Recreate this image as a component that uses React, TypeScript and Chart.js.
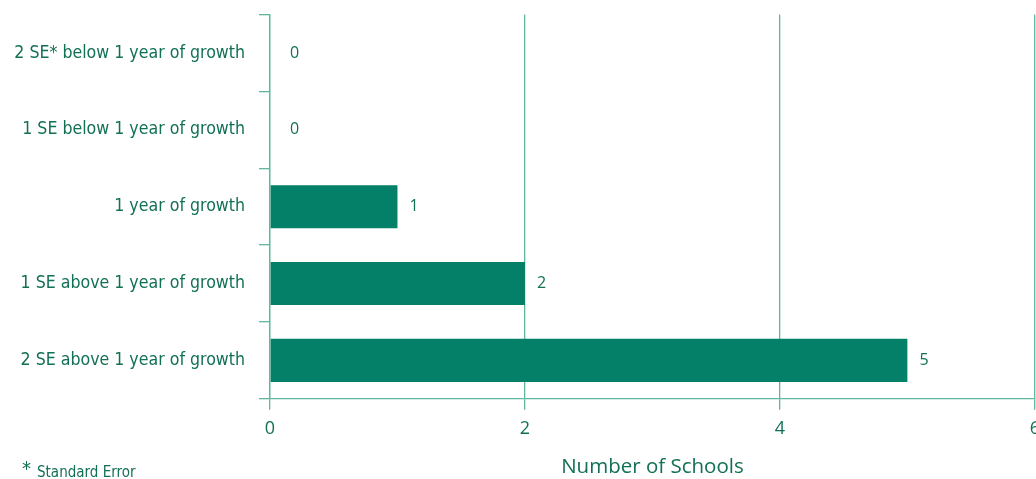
import React, { useEffect, useRef } from "react";
import { Chart, registerables } from "chart.js";

Chart.register(...registerables);

const categories = [
  "2 SE* below 1 year of growth",
  "1 SE below 1 year of growth",
  "1 year of growth",
  "1 SE above 1 year of growth",
  "2 SE above 1 year of growth",
];
const schoolCounts = [0, 0, 1, 2, 5];
const axisTitle = "Number of Schools";
const footnote = "* Standard Error";

const BAR = "rgb(4,128,104)";
const TEXT = "rgb(18,112,86)";
const GRID = "rgb(96,182,158)";
const NARROW = "'DejaVu Sans Condensed', 'Liberation Sans Narrow', 'Roboto', sans-serif";
const SHIFT = 10;

const valueLabels = {
  id: "valueLabels",
  afterDatasetsDraw(chart: any) {
    const ctx = chart.ctx;
    const meta = chart.getDatasetMeta(0);
    ctx.save();
    ctx.fillStyle = TEXT;
    ctx.font = "16px 'Open Sans'";
    ctx.textAlign = "left";
    ctx.textBaseline = "middle";
    meta.data.forEach((el: any, i: number) => {
      const v = schoolCounts[i];
      const off = v === 0 ? 20 : 12;
      ctx.fillText(String(v), el.x + off, el.y);
    });
    ctx.restore();
  },
};

const footnotePlugin = {
  id: "footnote",
  afterDraw(chart: any) {
    const ctx = chart.ctx;
    ctx.save();
    ctx.fillStyle = TEXT;
    ctx.textBaseline = "alphabetic";
    ctx.textAlign = "left";
    ctx.font = "20px " + NARROW;
    ctx.fillText(footnote.slice(0, 1), 22, 475 + SHIFT);
    ctx.font = "15px " + NARROW;
    ctx.fillText(footnote.slice(2), 37, 477 + SHIFT);
    ctx.restore();
  },
};

export default function App() {
  const ref = useRef<HTMLCanvasElement | null>(null);
  useEffect(() => {
    if (!ref.current) return;
    const chart = new Chart(ref.current, {
      type: "bar",
      data: {
        labels: categories,
        datasets: [
          {
            data: schoolCounts,
            backgroundColor: BAR,
            borderWidth: 0,
            barPercentage: 0.56,
            categoryPercentage: 1,
          },
        ],
      },
      options: {
        indexAxis: "y",
        animation: false,
        responsive: false,
        maintainAspectRatio: false,
        layout: { padding: { top: 5, left: 0, right: 0, bottom: 0 } },
        plugins: {
          legend: { display: false },
          tooltip: { enabled: false },
        },
        scales: {
          x: {
            min: 0,
            max: 6,
            ticks: {
              stepSize: 2,
              color: TEXT,
              font: { family: "'Open Sans'", size: 18 },
              padding: 8,
            },
            grid: {
              color: GRID,
              lineWidth: 1.3,
              tickLength: 11,
              drawOnChartArea: true,
            },
            border: { color: GRID, width: 1.3 },
            title: {
              display: true,
              text: axisTitle,
              color: TEXT,
              font: { family: "'Open Sans'", size: 20.5 },
              padding: { top: 7, bottom: 0 },
            },
          },
          y: {
            afterFit(scale: any) {
              scale.width = 270;
            },
            ticks: {
              color: TEXT,
              font: { family: NARROW, size: 17.6 },
              padding: 14,
            },
            grid: {
              color: GRID,
              lineWidth: 1.3,
              tickLength: 11,
              drawOnChartArea: false,
              offset: true,
            },
            border: { color: GRID, width: 1.3 },
          },
        },
      },
      plugins: [valueLabels, footnotePlugin],
    });
    return () => chart.destroy();
  }, []);
  return (
    <div
      style={{
        position: "absolute",
        left: 0,
        top: 0,
        width: 1036,
        height: 479,
        overflow: "hidden",
        background: "#fff",
      }}
    >
      <canvas
        ref={ref}
        width={1048}
        height={479 + SHIFT}
        style={{ width: 1048, height: 479 + SHIFT, display: "block", marginTop: -SHIFT }}
      />
    </div>
  );
}
